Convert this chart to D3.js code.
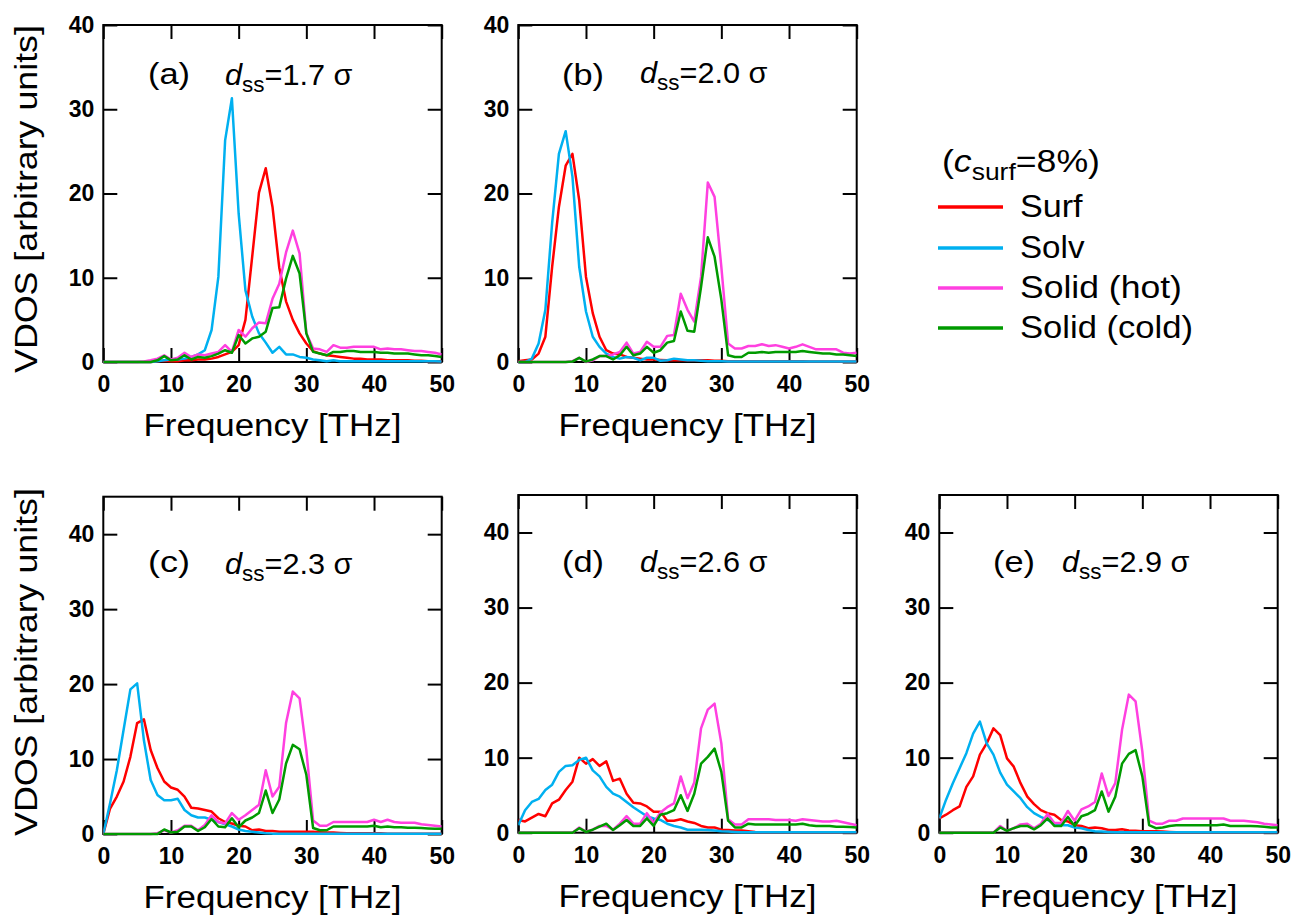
<!DOCTYPE html>
<html><head><meta charset="utf-8">
<script src="https://cdn.jsdelivr.net/npm/d3@7"></script>
<style>body{margin:0;background:#fff} svg{display:block}</style>
</head><body>
<svg id="chart" width="1294" height="917"></svg>
<script>
// ---------- data ----------
const freq = [0,1,2,3,4,5,6,7,8,9,10,11,12,13,14,15,16,17,18,19,20,21,22,23,24,25,26,27,28,29,30,31,32,33,34,35,36,37,38,39,40,41,42,43,44,45,46,47,48,49,50];
const xTicks = [0,10,20,30,40,50];
const yTicks = [0,10,20,30,40];
const seriesNames = ["Surf","Solv","Solid (hot)","Solid (cold)"];
const seriesColors = ["#ff0000","#00b0f0","#ff40e0","#009a00"];
const panelLabels = ["(a)","(b)","(c)","(d)","(e)"];
const dssValues = ["1.7","2.0","2.3","2.6","2.9"];

// (a) d_ss = 1.7 sigma
const surfA = [0,0,0,0,0,0,0,0,0.1,0.15, 0.1,0.1,0.2,0.2,0.3,0.3,0.4,0.6,0.9,1.2, 2.0,5.0,12.5,20.1,23.0,18.4,11.2,7.2,5.0,3.4, 2.2,1.3,1.0,0.8,0.7,0.6,0.5,0.4,0.4,0.3, 0.3,0.3,0.2,0.2,0.2,0.2,0.15,0.15,0.1,0.1, 0.1];
const solvA = [0,0,0,0,0,0,0,0,0.1,0.2, 0.3,0.3,0.4,0.6,0.9,1.4,3.8,10.1,26.3,31.3, 17.6,8.5,5.4,3.4,2.3,1.1,1.8,0.9,0.9,0.6, 0.5,0.3,0.2,0.1,0.2,0.1,0.1,0.1,0.1,0.1, 0.1,0.1,0.1,0.1,0.1,0.1,0.1,0.1,0.1,0.1, 0.05];
const hotA  = [0,0,0,0,0,0,0.05,0.2,0.4,0.8, 0.3,0.5,1.1,0.6,0.9,0.8,1.0,1.2,2.0,1.2, 3.8,3.0,4.0,4.7,4.6,7.5,9.3,13.0,15.6,12.9, 3.4,1.6,1.5,1.2,2.0,1.7,1.7,1.8,1.8,1.8, 1.8,1.5,1.6,1.5,1.5,1.4,1.3,1.3,1.2,1.1, 0.9];
const coldA = [0,0,0,0,0,0,0,0,0.2,0.7, 0.2,0.3,0.8,0.3,0.6,0.5,0.7,1.0,1.4,1.1, 3.2,2.2,2.8,3.0,3.6,6.4,6.5,9.9,12.6,10.5, 3.4,1.2,1.0,0.8,1.2,1.2,1.3,1.3,1.2,1.2, 1.2,1.1,1.1,1.0,1.0,1.0,0.9,0.8,0.8,0.7, 0.6];

// (b) d_ss = 2.0 sigma
const surfB = [0.1,0.2,0.3,1.0,3.0,11.3,18.4,23.3,24.7,19.2, 10.1,5.8,3.0,1.4,1.0,0.9,0.6,0.5,0.4,0.3, 0.3,0.25,0.2,0.2,0.2,0.2,0.2,0.2,0.2,0.15, 0.15,0.1,0.1,0.1,0.1,0.1,0.1,0.1,0.1,0.1, 0.1,0.1,0.1,0.05,0.05,0.05,0.05,0.05,0.05,0.05, 0.05];
const solvB = [0,0,0.4,2.2,6.2,16.5,24.7,27.4,22.0,11.3, 6.0,3.0,1.8,1.0,0.6,0.4,0.6,0.5,0.2,0.5, 0.5,0.15,0.2,0.4,0.3,0.2,0.2,0.15,0.1,0.1, 0.1,0.05,0.05,0.05,0.05,0.05,0.05,0.05,0.05,0.05, 0.05,0.05,0.05,0.05,0.05,0.05,0.05,0.05,0.05,0.05, 0.05];
const hotB  = [0,0,0,0,0,0,0,0,0.1,0.5, 0,0.2,0.7,0.7,0.9,1.2,2.3,1.0,1.2,2.4, 1.8,1.8,3.1,3.2,8.1,6.2,4.8,10.1,21.3,19.6, 11.3,2.2,1.6,1.6,1.9,1.9,2.1,1.9,2.0,1.8, 1.6,1.8,2.1,1.8,1.5,1.5,1.5,1.5,1.1,1.0, 1.1];
const coldB = [0,0,0,0,0,0,0,0,0.05,0.5, 0.05,0.3,0.7,0.7,0.3,0.8,1.8,0.8,1.0,1.8, 1.1,1.4,2.3,2.5,6.0,3.7,3.6,8.9,14.8,12.5, 7.4,0.8,0.6,0.6,1.1,1.1,1.2,1.1,1.2,1.2, 1.2,1.2,1.3,1.2,1.1,1.0,1.0,0.9,0.9,0.8, 0.7];

// (c) d_ss = 2.3 sigma
const surfC = [0,3.4,5.0,7.0,10.3,14.8,15.3,11.2,8.8,7.0, 6.2,5.9,5.0,3.5,3.4,3.2,3.0,2.1,1.6,1.4, 1.1,1.0,0.5,0.6,0.4,0.4,0.3,0.3,0.3,0.3, 0.3,0.3,0.25,0.2,0.2,0.15,0.1,0.1,0.1,0.1, 0.1,0.1,0.05,0.05,0.05,0.05,0.05,0.05,0.05,0.05, 0.05];
const solvC = [0,4.1,8.5,13.9,19.3,20.1,12.5,7.2,5.2,4.5, 4.5,4.7,3.2,2.5,2.2,2.2,1.9,1.6,1.3,1.0, 0.6,0.4,0.3,0.2,0.1,0.05,0.05,0.05,0.05,0.05, 0.05,0.05,0.05,0.05,0.05,0.05,0.05,0.05,0.05,0.05, 0.05,0.05,0.05,0.05,0.05,0.05,0.05,0.05,0.05,0.05, 0.05];
const hotC  = [0,0,0,0,0,0,0,0,0.1,0.5, 0.2,0.5,1.1,1.1,0.5,1.2,2.5,1.6,1.4,2.8, 1.9,2.5,3.2,3.9,8.5,5.0,6.3,14.8,19.0,18.1, 11.2,1.8,1.1,1.1,1.6,1.6,1.6,1.6,1.6,1.6, 1.9,1.6,1.9,1.6,1.5,1.5,1.5,1.3,1.2,1.1, 1.0];
const coldC = [0,0,0,0,0,0,0,0,0,0.6, 0.2,0.3,1.0,1.0,0.4,0.9,2.0,1.0,0.9,2.1, 0.9,1.8,2.2,2.8,5.8,2.8,4.6,9.4,11.9,11.3, 7.9,0.8,0.5,0.5,1.0,1.0,1.0,1.0,1.0,1.0, 1.1,0.9,1.0,0.9,0.9,0.85,0.85,0.8,0.75,0.7, 0.7];

// (d) d_ss = 2.6 sigma
const surfD = [1.7,1.5,2.0,2.5,2.2,3.9,4.4,5.7,6.8,10.0, 9.2,9.8,8.9,9.5,6.9,7.2,5.2,4.0,3.9,3.5, 2.8,2.8,1.6,1.6,1.8,1.5,1.3,0.9,0.7,0.7, 0.4,0.35,0.3,0.3,0.2,0.1,0.05,0.05,0.05,0.05, 0.05,0.05,0.05,0.05,0.05,0.05,0.05,0.05,0.05,0.05, 0.05];
const solvD = [1.0,3.0,4.1,4.5,5.7,6.4,8.1,8.9,9.0,9.7, 10.0,8.3,7.5,6.1,5.2,4.8,4.1,3.4,2.8,2.2, 1.9,1.7,1.2,0.9,0.7,0.4,0.4,0.4,0.35,0.3, 0.2,0.15,0.1,0.05,0.05,0.05,0.05,0.05,0.05,0.05, 0.05,0.05,0.05,0.05,0.05,0.05,0.05,0.05,0.05,0.05, 0.05];
const hotD  = [0,0,0,0,0,0,0,0,0,0.7, 0.15,0.4,0.9,0.9,0.4,1.2,2.2,1.2,1.2,2.6, 1.3,2.7,3.4,3.9,7.5,4.6,6.7,13.9,16.4,17.2, 11.9,1.8,1.1,1.1,1.8,1.8,1.8,1.8,1.7,1.7, 1.7,1.6,1.8,1.7,1.6,1.5,1.5,1.6,1.4,1.2, 1.0];
const coldD = [0,0,0,0,0,0,0,0,0,0.6, 0.1,0.4,0.8,1.2,0.35,1.0,1.7,0.9,0.9,1.9, 0.9,2.4,2.6,3.0,5.0,2.9,5.2,9.2,10.1,11.2, 8.1,1.6,0.7,0.7,1.2,1.1,1.1,1.1,1.1,1.1, 1.1,1.1,1.2,1.0,0.9,0.9,0.9,0.8,0.8,0.75, 0.7];

// (e) d_ss = 2.9 sigma
const surfE = [1.9,2.4,3.0,3.5,6.1,7.5,10.4,11.9,13.9,13.0, 9.9,8.8,6.6,4.8,3.8,3.0,2.6,2.4,1.7,1.5, 1.0,0.9,0.6,0.7,0.6,0.35,0.35,0.45,0.3,0.25, 0.2,0.2,0.2,0.15,0.1,0.05,0.05,0.05,0.05,0.05, 0.05,0.05,0.05,0.05,0.05,0.05,0.05,0.05,0.05,0.05, 0.05];
const solvE = [1.9,4.4,6.6,8.6,10.6,13.2,14.8,11.9,10.4,8.0, 6.4,5.5,4.6,3.4,2.6,2.1,1.7,1.2,1.0,1.0, 0.7,0.6,0.35,0.2,0.15,0.1,0.05,0.05,0.05,0.05, 0.05,0.05,0.05,0.05,0.05,0.05,0.05,0.05,0.05,0.05, 0.05,0.05,0.05,0.05,0.05,0.05,0.05,0.05,0.05,0.05, 0.05];
const hotE  = [0,0,0,0,0,0,0,0,0,0.9, 0.25,0.6,1.1,1.2,0.6,1.2,2.5,1.3,1.3,2.9, 1.6,3.1,3.5,4.1,7.9,4.9,6.6,13.7,18.4,17.5, 10.8,1.6,1.2,1.2,1.6,1.6,1.9,1.9,1.9,1.9, 1.9,1.9,1.9,1.6,1.6,1.6,1.5,1.4,1.2,1.1, 1.0];
const coldE = [0,0,0,0,0,0,0,0,0,0.7, 0.25,0.6,0.9,0.9,0.45,1.0,1.9,0.9,0.9,2.1, 0.9,2.2,2.5,3.0,5.5,2.8,4.8,9.2,10.5,11.0, 7.5,1.0,0.6,0.7,0.9,1.0,1.0,1.0,1.0,1.0, 1.0,1.0,1.1,0.9,0.9,0.9,0.9,0.85,0.8,0.7, 0.7];

// ---------- layout ----------
const FONT = "'Liberation Sans', Arial, Helvetica, sans-serif";
const svg = d3.select("#chart");

const panels = [
  {x0:103.3, x1:441.7, y0:25,    y1:362,   ymax:40, series:[surfA,solvA,hotA,coldA], lab:[148,84], dss:[225,85]},
  {x0:518.3, x1:856.7, y0:25,    y1:362,   ymax:40, series:[surfB,solvB,hotB,coldB], lab:[562,85], dss:[640,83]},
  {x0:103.3, x1:441.7, y0:496.7, y1:834,   ymax:45, series:[surfC,solvC,hotC,coldC], lab:[148,572], dss:[225,574]},
  {x0:518.3, x1:856.7, y0:495,   y1:832.7, ymax:45, series:[surfD,solvD,hotD,coldD], lab:[562,572], dss:[640,572]},
  {x0:939.3, x1:1277.7,y0:495,   y1:832.7, ymax:45, series:[surfE,solvE,hotE,coldE], lab:[993,572], dss:[1062,572]}
];

function addText(parent, o) {
  const g = parent.append("g")
    .attr("transform", `translate(${o.x},${o.y})` + (o.rotate ? ` rotate(${o.rotate})` : ""));
  const t = g.append("text")
    .attr("font-family", FONT).attr("font-size", o.size)
    .attr("text-anchor", o.anchor || "start").attr("fill", "#000");
  if (o.weight) t.attr("font-weight", o.weight);
  o.parts.forEach(p => {
    const ts = t.append("tspan").text(p.text);
    if (p.italic) ts.attr("font-style", "italic");
    if (p.size) ts.attr("font-size", p.size);
    if (p.dy) ts.attr("dy", p.dy);
  });
  if (o.width) {
    const w = t.node().getBBox().width;
    if (w > 0) t.attr("transform", `scale(${o.width / w},1)`);
  }
  return g;
}

const lineW = 2.5, tickLen = 14;

panels.forEach((p, pi) => {
  const x = d3.scaleLinear().domain([0, 50]).range([p.x0, p.x1]);
  const y = d3.scaleLinear().domain([0, p.ymax]).range([p.y1, p.y0]);
  const g = svg.append("g");

  const styleAxis = sel => {
    sel.select(".domain").remove();
    sel.selectAll(".tick line").attr("stroke", "#000").attr("stroke-width", 2);
    sel.selectAll(".tick text").attr("font-family", FONT).attr("font-size", 23)
      .attr("font-weight", "bold").attr("fill", "#000");
  };

  g.append("g").attr("transform", `translate(0,${p.y1})`)
    .call(d3.axisBottom(x).tickValues(xTicks).tickSize(-tickLen).tickPadding(14)).call(styleAxis);
  g.append("g").attr("transform", `translate(0,${p.y0})`)
    .call(d3.axisTop(x).tickValues(xTicks).tickSize(-tickLen).tickFormat("")).call(styleAxis);
  g.append("g").attr("transform", `translate(${p.x0},0)`)
    .call(d3.axisLeft(y).tickValues(yTicks).tickSize(-tickLen).tickPadding(9)).call(styleAxis);
  g.append("g").attr("transform", `translate(${p.x1},0)`)
    .call(d3.axisRight(y).tickValues(yTicks).tickSize(-tickLen).tickFormat("")).call(styleAxis);

  g.append("rect").attr("x", p.x0).attr("y", p.y0)
    .attr("width", p.x1 - p.x0).attr("height", p.y1 - p.y0)
    .attr("fill", "none").attr("stroke", "#000").attr("stroke-width", 2);

  const clipId = "clip" + pi;
  svg.append("clipPath").attr("id", clipId).append("rect")
    .attr("x", p.x0).attr("y", p.y0).attr("width", p.x1 - p.x0).attr("height", p.y1 - p.y0 + 2);

  const line = d3.line().x((d, i) => x(freq[i])).y(d => y(d));
  const lg = g.append("g").attr("clip-path", `url(#${clipId})`);
  p.series.forEach((s, si) => {
    lg.append("path").datum(s).attr("d", line)
      .attr("fill", "none").attr("stroke", seriesColors[si])
      .attr("stroke-width", lineW).attr("stroke-linejoin", "round");
  });

  // panel annotation
  addText(g, {x: p.lab[0], y: p.lab[1], size: 30, width: 42, parts: [{text: panelLabels[pi]}]});
  addText(g, {x: p.dss[0], y: p.dss[1], size: 30, width: 128, parts: [
    {text: "d", italic: true},
    {text: "ss", size: 22, dy: 7},
    {text: "=" + dssValues[pi] + " σ", dy: -7}
  ]});

  // x axis title
  addText(g, {x: (p.x0 + p.x1) / 2, y: p.y1 + 74, size: 31, anchor: "middle", width: 258,
    parts: [{text: "Frequency [THz]"}]});
});

// y axis titles
addText(svg, {x: 37, y: 199, rotate: -90, size: 31, anchor: "middle", width: 348,
  parts: [{text: "VDOS [arbitrary units]"}]});
addText(svg, {x: 37, y: 662, rotate: -90, size: 31, anchor: "middle", width: 348,
  parts: [{text: "VDOS [arbitrary units]"}]});

// legend
const legend = svg.append("g");
addText(legend, {x: 942, y: 172, size: 31, width: 158, parts: [
  {text: "("}, {text: "c", italic: true}, {text: "surf", size: 23, dy: 8}, {text: "=8%)", dy: -8}
]});
const legendBaselines = [217, 258, 298, 338];
const legendWidths = [63, 65, 162, 173];
seriesNames.forEach((name, i) => {
  legend.append("line")
    .attr("x1", 938).attr("x2", 1003)
    .attr("y1", legendBaselines[i] - 10).attr("y2", legendBaselines[i] - 10)
    .attr("stroke", seriesColors[i]).attr("stroke-width", 3.5);
  addText(legend, {x: 1020, y: legendBaselines[i], size: 31, width: legendWidths[i], parts: [{text: name}]});
});
</script>
</body></html>
